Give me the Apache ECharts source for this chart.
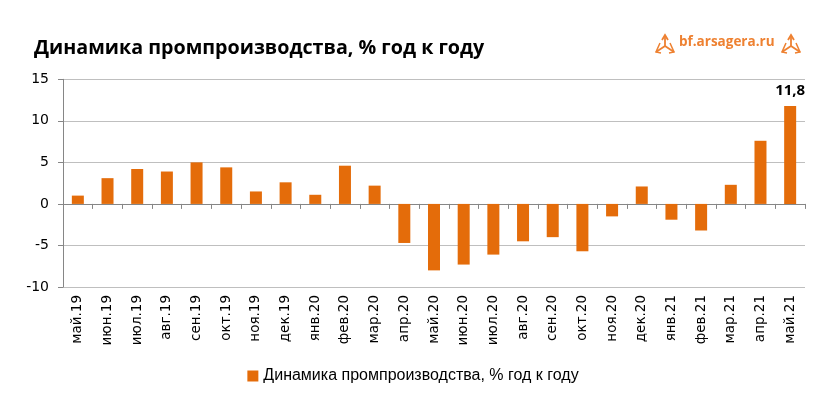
<!DOCTYPE html>
<html><head><meta charset="utf-8">
<script src="https://cdn.jsdelivr.net/npm/echarts@6/dist/echarts.min.js"></script>
<style>html,body{margin:0;padding:0;background:#fff}#c{width:826px;height:416px}</style>
</head><body><div id="c"></div>
<script>
const categories = ['май.19','июн.19','июл.19','авг.19','сен.19','окт.19','ноя.19','дек.19','янв.20','фев.20','мар.20','апр.20','май.20','июн.20','июл.20','авг.20','сен.20','окт.20','ноя.20','дек.20','янв.21','фев.21','мар.21','апр.21','май.21'];
const values = [1.0,3.1,4.2,3.9,5.0,4.4,1.5,2.6,1.1,4.6,2.2,-4.7,-8.0,-7.3,-6.1,-4.5,-4.0,-5.7,-1.5,2.1,-1.9,-3.2,2.3,7.6,11.8];
const yTicks = [-10,-5,0,5,10,15];
const seriesName = 'Динамика промпроизводства, % год к году';
const titleText = 'Динамика промпроизводства, % год к году';
const labeledIndex = 24;

const orange = '#E46C0A';
const logoOrange = '#EE8131';
const chart = echarts.init(document.getElementById('c'));
const barData = values.map((v,i)=> i===labeledIndex ? {value:v,label:{show:true,position:'top',formatter:p=>String(p.value).replace('.',','),fontWeight:'bold',fontSize:15,color:'#000',fontFamily:'Open Sans',distance:8}} : v);

function arrowIcon(cx, cy){
  return {type:'group', x:cx, y:cy, children:[
    {type:'polyline', shape:{points:[[-3,-4],[0,-9],[3,-4]]}, style:{stroke:logoOrange,lineWidth:1.8,fill:null}},
    {type:'polyline', shape:{points:[[0,-9],[0,2]]}, style:{stroke:logoOrange,lineWidth:1.8}},
    {type:'polyline', shape:{points:[[0,2],[-9,8]]}, style:{stroke:logoOrange,lineWidth:1.8}},
    {type:'polyline', shape:{points:[[0,2],[9,8]]}, style:{stroke:logoOrange,lineWidth:1.8}},
    {type:'polyline', shape:{points:[[-5,-1],[-9,8],[-4,9]]}, style:{stroke:logoOrange,lineWidth:1.5,fill:null}},
    {type:'polyline', shape:{points:[[5,-1],[9,8],[4,9]]}, style:{stroke:logoOrange,lineWidth:1.5,fill:null}}
  ]};
}

chart.setOption({
  animation:false,
  backgroundColor:'#fff',
  title:{text:titleText,left:29,top:33,textStyle:{fontFamily:'Open Sans',fontWeight:'bold',fontSize:19.7,color:'#000'}},
  graphic:[
    arrowIcon(665,44),
    {type:'text',left:679,top:35,style:{text:'bf.arsagera.ru',fontFamily:'Open Sans',fontWeight:'bold',fontSize:13.5,fill:logoOrange}},
    arrowIcon(791,44)
  ],
  legend:{bottom:27,left:'center',itemWidth:11,itemHeight:11,icon:'rect',itemGap:5,
    textStyle:{fontFamily:'Liberation Sans',fontSize:16,color:'#000'},data:[seriesName]},
  grid:{left:63,right:21,top:79.3,bottom:129,containLabel:false},
  xAxis:[
    {type:'category',data:categories,position:'bottom',
     axisLine:{show:true,onZero:true,lineStyle:{color:'#868686',width:1}},
     axisTick:{show:true,length:5,inside:false,interval:0,alignWithLabel:false,lineStyle:{color:'#868686'}},
     axisLabel:{show:false}},
    {type:'category',data:categories,position:'bottom',
     axisLine:{show:false},axisTick:{show:false},
     axisLabel:{show:true,rotate:90,margin:8,fontFamily:'DejaVu Sans',fontSize:13.5,color:'#000',interval:0}}
  ],
  yAxis:{type:'value',min:-10,max:15,interval:5,
    axisLine:{show:true,lineStyle:{color:'#868686'}},
    axisTick:{show:true,length:5,lineStyle:{color:'#868686'}},
    axisLabel:{fontFamily:'DejaVu Sans',fontSize:14,color:'#000',margin:14,
      formatter:v=>yTicks.includes(v)?String(v):''},
    splitLine:{show:true,lineStyle:{color:'#BFBFBF',width:1}}},
  series:[{name:seriesName,type:'bar',data:barData,barWidth:12,xAxisIndex:0,
    itemStyle:{color:orange}}]
});
</script></body></html>
